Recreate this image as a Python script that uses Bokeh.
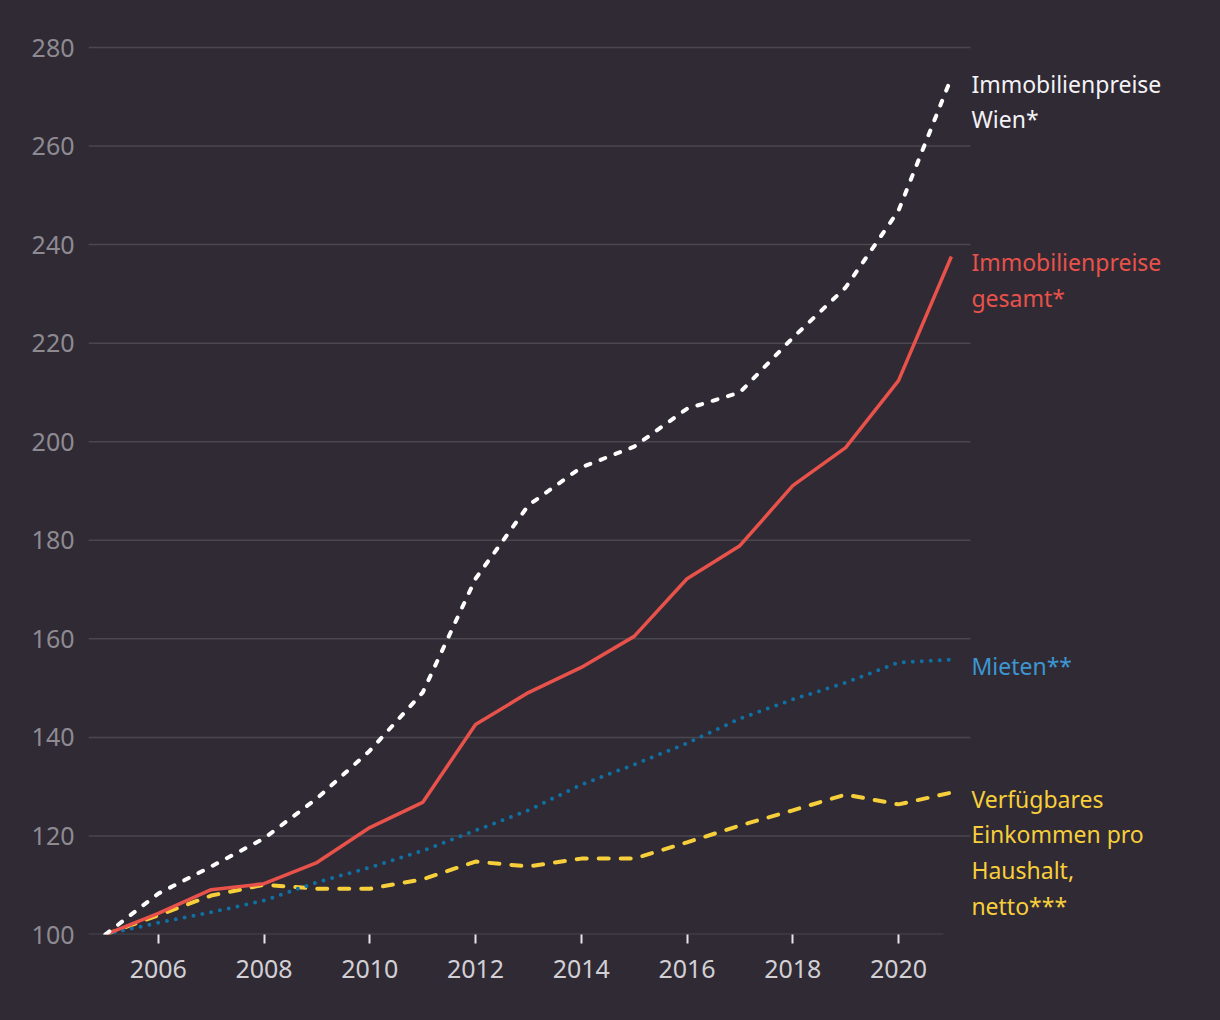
from bokeh.plotting import figure
from bokeh.models import Range1d, FixedTicker
from bokeh.embed import file_html
from bokeh.resources import INLINE
from bokeh.core.properties import value

years = list(range(2005, 2022))
wien = [100, 108.3, 113.8, 119.5, 127.6, 137.3, 149.1, 172.2, 187.1, 194.8, 199.0, 206.7, 210.0, 221.1, 231.3, 246.9, 273.9]
gesamt = [100, 104.3, 109.1, 110.3, 114.6, 121.7, 126.8, 142.6, 149.1, 154.2, 160.5, 172.2, 178.9, 191.1, 198.8, 212.4, 237.6]
mieten = [100, 102.4, 104.5, 106.9, 110.6, 113.6, 117.0, 121.1, 125.2, 130.4, 134.5, 138.8, 143.8, 147.7, 151.1, 155.2, 155.8]
einkommen = [100, 103.9, 107.9, 110.1, 109.3, 109.3, 111.2, 114.8, 113.8, 115.4, 115.4, 118.7, 122.1, 125.2, 128.4, 126.4, 128.8]

labels = ["Immobilienpreise\nWien*", "Immobilienpreise\ngesamt*", "Mieten**", "Verfügbares\nEinkommen pro\nHaushalt,\nnetto***"]
x_ticks = [2006, 2008, 2010, 2012, 2014, 2016, 2018, 2020]
y_ticks = [100, 120, 140, 160, 180, 200, 220, 240, 260, 280]

BG = "#2f2a34"
GRID = "#4b474f"
FONT = "Noto Sans"
X0, X1 = 2004.68, 2026.09      # frame spans the label column too
GRID_END = 2021.36             # grid lines stop before the labels
BASE_END = 2020.85

p = figure(width=1220, height=1020, output_backend="svg", toolbar_location=None,
           x_range=Range1d(X0, X1), y_range=Range1d(100, 289.54),
           min_border_left=88, min_border_right=0, min_border_top=0, min_border_bottom=86)
# no fills: the page itself carries the background colour (avoids seams)
p.background_fill_color = None
p.border_fill_color = None
p.outline_line_color = None
try:
    p.border_line_color = None
except Exception:
    pass

p.grid.grid_line_color = None

p.xaxis.ticker = FixedTicker(ticks=x_ticks)
p.xaxis.axis_line_color = None
p.xaxis.major_tick_line_color = "#e6e4e8"
p.xaxis.major_tick_line_width = 2
p.xaxis.major_tick_in = 0
p.xaxis.major_tick_out = 9
p.xaxis.minor_tick_line_color = None
p.xaxis.major_label_text_color = "#d2d0d4"
p.xaxis.major_label_text_font = FONT
p.xaxis.major_label_text_font_size = "25px"
p.xaxis.major_label_standoff = 16

p.yaxis.ticker = FixedTicker(ticks=y_ticks)
p.yaxis.axis_line_color = None
p.yaxis.major_tick_line_color = None
p.yaxis.minor_tick_line_color = None
p.yaxis.major_label_text_color = "#8e8a92"
p.yaxis.major_label_text_font = FONT
p.yaxis.major_label_text_font_size = "25px"
p.yaxis.major_label_standoff = 8

# horizontal grid lines and the baseline
gy = y_ticks[1:]
p.segment(x0=[X0] * len(gy), x1=[GRID_END] * len(gy), y0=gy, y1=gy, line_color=GRID, line_width=1.5)
p.segment(x0=[X0], x1=[BASE_END], y0=[y_ticks[0]], y1=[y_ticks[0]], line_color=GRID, line_width=2)

p.line(years, einkommen, line_color="#f7cf3b", line_width=4, line_dash="10 12", line_cap="round")
p.line(years, mieten, line_color="#0f70a3", line_width=4, line_dash="0 9", line_cap="round")
p.line(years, gesamt, line_color="#e8524a", line_width=3.5)
p.line(years, wien, line_color="#ffffff", line_width=4, line_dash="5 11", line_cap="round")

label_colors = ["#f4f2f6", "#e8524a", "#3d96d2", "#f7cf3b"]
last_vals = [wien[-1], gesamt[-1], mieten[-1], einkommen[-1]]
for lab, col, yv in zip(labels, label_colors, last_vals):
    p.text(x=[years[-1]], y=[yv], text=[lab], text_color=col, text_font=value(FONT),
           text_font_size="23px", text_baseline="top", text_align="left",
           x_offset=20, y_offset=-10, text_line_height=1.12)

html = file_html(p, INLINE)
style = "<style>html,body{margin:0;padding:0;background:%s;}</style>" % BG
html = html.replace("</head>", style + "</head>", 1)
open("out.html", "w").write(html)
